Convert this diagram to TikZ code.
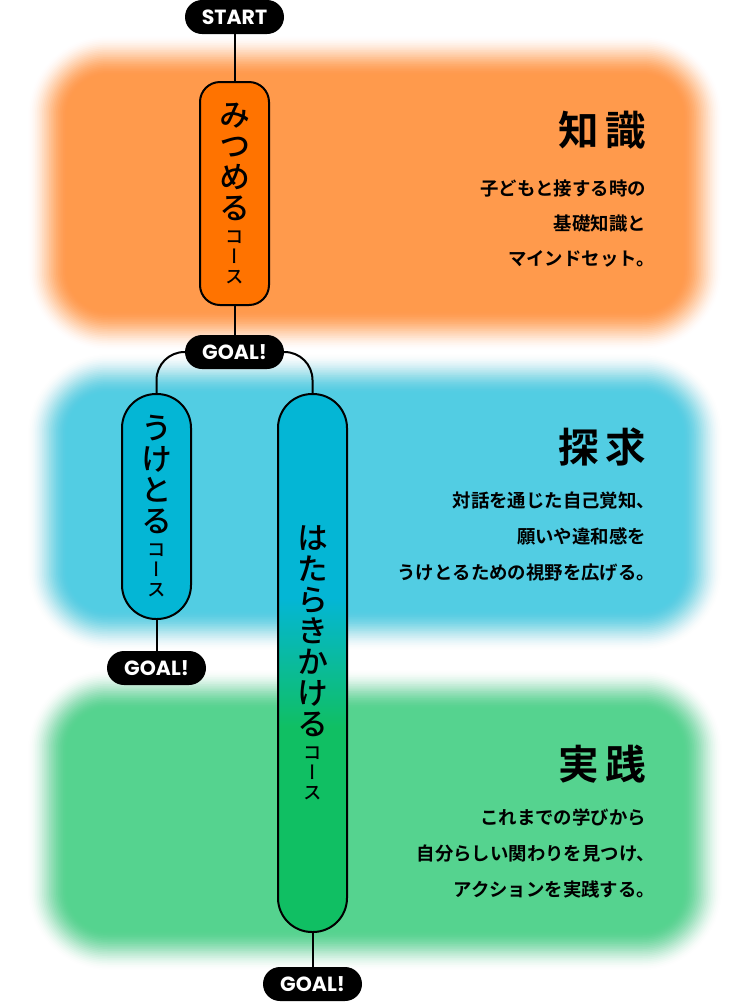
\documentclass[tikz,border=0pt]{standalone}
\usepackage{fontspec}
\newfontfamily\jp{Noto Sans CJK JP}[UprightFont=* Medium, BoldFont=* Bold]
\newfontfamily\jpv{Noto Sans CJK JP}[UprightFont=* Medium, RawFeature=+vert]
\newfontfamily\pop{Poppins}[UprightFont=* Bold]
\definecolor{bgorange}{RGB}{255,154,76}
\definecolor{bgcyan}{RGB}{82,205,227}
\definecolor{bggreen}{RGB}{85,211,143}
\definecolor{boxorange}{RGB}{255,115,0}
\definecolor{boxcyan}{RGB}{4,182,213}
\definecolor{boxgreen}{RGB}{16,191,99}
\pgfdeclareverticalshading{hatash}{100bp}{color(0bp)=(boxgreen); color(44bp)=(boxgreen); color(56bp)=(boxcyan); color(100bp)=(boxcyan)}
% blurred rounded band: colour, inner x1,y1,x2,y2, inner radius
\newcommand\mkblob[6]{%
  \foreach \i in {1,...,24}{%
    \pgfmathsetmacro\blobd{(25-\i)*1.75}%
    \pgfmathsetmacro\blobt{\i/24}%
    \pgfmathsetmacro\blobs{(\i-1)/24}%
    \pgfmathsetmacro\blobc{3*\blobt*\blobt-2*\blobt*\blobt*\blobt}%
    \pgfmathsetmacro\blobp{3*\blobs*\blobs-2*\blobs*\blobs*\blobs}%
    \pgfmathsetmacro\bloba{min(1,(\blobc-\blobp)/(1-\blobp))}%
    \pgfmathsetmacro\blobr{#6+\blobd}%
    \fill[#1, fill opacity=\bloba, rounded corners=\blobr pt] (#2-\blobd,#3-\blobd) rectangle (#4+\blobd,#5+\blobd);
  }}
\newcommand\vbig[1]{\hbox to 40pt{\hss\jpv\fontsize{31pt}{31pt}\selectfont #1\hss}}
\newcommand\vsm[1]{\hbox to 40pt{\hss\jpv\fontsize{18.5pt}{18.5pt}\selectfont #1\hss}}
\newcommand\vcourse[1]{\vbox{\lineskiplimit=-1000pt\baselineskip=31pt #1\baselineskip=24pt\vsm{コ}\baselineskip=20pt\vsm{ー}\vsm{ス}}}
\begin{document}
\begin{tikzpicture}[x=1pt,y=-1pt,
  conn/.style={line width=2pt, black},
  pill/.style={fill=black, rounded corners=17pt, minimum width=99pt, minimum height=34pt, inner sep=0pt, text=white, font=\pop\fontsize{20.5pt}{20.5pt}\selectfont},
  course/.style={draw=black, line width=2pt, minimum width=69pt, inner sep=0pt},
  ttl/.style={anchor=base east, inner sep=0pt, font=\jp\bfseries\fontsize{40.5pt}{40.5pt}\selectfont},
  bodytxt/.style={anchor=base east, inner sep=0pt, font=\jp\bfseries\fontsize{18.4pt}{18.4pt}\selectfont}]
\fill[white] (0,0) rectangle (750,1005);
\useasboundingbox (0,0) rectangle (750,1005);
% blurred background bands
\mkblob{bgorange}{70}{78}{680}{308}{38}
\mkblob{bgcyan}{70}{396}{680}{608}{38}
\mkblob{bggreen}{70}{712}{680}{928}{38}
% section texts
\node[ttl] (t1) at (646,145) {知\hspace{6pt}識};
\node[bodytxt] (b11) at (646,195) {子どもと接する時の};
\node[bodytxt] (b12) at (646,230) {基礎知識と};
\node[bodytxt] (b13) at (646,265) {マインドセット。\kern-0.5em};
\node[ttl] (t2) at (646,462) {探\hspace{6pt}求};
\node[bodytxt] (b21) at (646,507) {対話を通じた自己覚知、\kern-0.5em};
\node[bodytxt] (b22) at (646,543) {願いや違和感を};
\node[bodytxt] (b23) at (646,579) {うけとるための視野を広げる。\kern-0.5em};
\node[ttl] (t3) at (646,779.5) {実\hspace{6pt}践};
\node[bodytxt] (b31) at (646,824) {これまでの学びから};
\node[bodytxt] (b32) at (646,860) {自分らしい関わりを見つけ、\kern-0.5em};
\node[bodytxt] (b33) at (646,896) {アクションを実践する。\kern-0.5em};
% flow nodes
\node[pill] (start) at (234.5,17) {START};
\node[course, fill=boxorange, rounded corners=20pt, minimum height=223pt] (mitsu) at (234.5,193.5)
  {\vcourse{\vbig{み}\vbig{つ}\vbig{め}\vbig{る}}};
\node[pill] (goal1) at (234.5,352) {GOAL!};
\node[course, fill=boxcyan, rounded corners=34pt, minimum height=225pt] (uke) at (156.5,506.5)
  {\vcourse{\vbig{う}\vbig{け}\vbig{と}\vbig{る}}};
\node[course, shade, shading=hatash, rounded corners=34pt, minimum height=538pt] (hata) at (312.5,663)
  {\vcourse{\vbig{は}\vbig{た}\vbig{ら}\vbig{き}\vbig{か}\vbig{け}\vbig{る}}};
\node[pill] (goal2) at (156.5,668) {GOAL!};
\node[pill] (goal3) at (312.5,984) {GOAL!};
% connectors
\draw[conn] (start) -- (mitsu);
\draw[conn] (mitsu) -- (goal1);
\draw[conn, rounded corners=28pt] (goal1.west) -| (uke.north);
\draw[conn, rounded corners=28pt] (goal1.east) -| (hata.north);
\draw[conn] (uke) -- (goal2);
\draw[conn] (hata) -- (goal3);
\end{tikzpicture}
\end{document}
